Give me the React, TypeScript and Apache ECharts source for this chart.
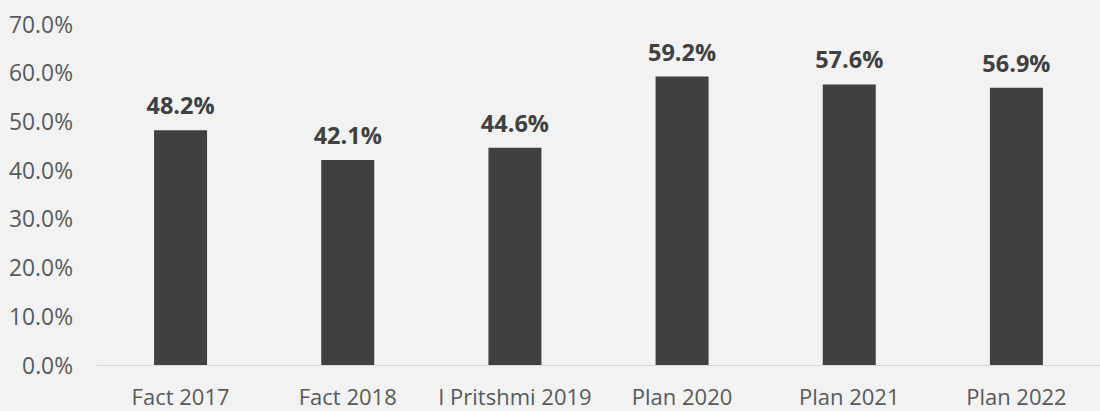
import React, { useEffect, useRef } from "react";
import * as echarts from "echarts";

const categories = ["Fact 2017", "Fact 2018", "I Pritshmi 2019", "Plan 2020", "Plan 2021", "Plan 2022"];
const values = [48.2, 42.1, 44.6, 59.2, 57.6, 56.9];
const yTicks = { min: 0, max: 70, interval: 10 };

const FONT = "Open Sans";

export default function App() {
  const ref = useRef<HTMLDivElement>(null);
  useEffect(() => {
    const chart = echarts.init(ref.current!, undefined, { renderer: "svg" });
    chart.setOption({
      animation: false,
      backgroundColor: "#f2f2f2",
      textStyle: { fontFamily: FONT },
      grid: { left: 97, right: -13, top: 24, bottom: 46, containLabel: false },
      xAxis: {
        type: "category",
        data: categories,
        axisLine: { show: true, lineStyle: { color: "#d9d9d9", width: 1 } },
        axisTick: { show: false },
        axisLabel: {
          color: "#595959",
          fontSize: 22,
          lineHeight: 18,
          margin: 21.5,
          interval: 0,
          fontFamily: FONT,
        },
      },
      yAxis: {
        type: "value",
        min: yTicks.min,
        max: yTicks.max,
        interval: yTicks.interval,
        splitLine: { show: false },
        axisLine: { show: false },
        axisTick: { show: false },
        axisLabel: {
          color: "#595959",
          fontSize: 22.8,
          margin: 24,
          fontFamily: FONT,
          formatter: (v: number) => v.toFixed(1) + "%",
        },
      },
      series: [
        {
          type: "bar",
          data: values,
          barWidth: 53,
          itemStyle: { color: "#404040" },
          label: {
            show: true,
            position: "top",
            distance: 13,
            color: "#404040",
            fontSize: 23.5,
            fontWeight: "bold",
            fontFamily: FONT,
            formatter: (p: any) => p.value.toFixed(1) + "%",
          },
        },
      ],
    });
    return () => chart.dispose();
  }, []);
  return <div ref={ref} style={{ position: "fixed", left: 0, top: 0, width: 1100, height: 411 }} />;
}
